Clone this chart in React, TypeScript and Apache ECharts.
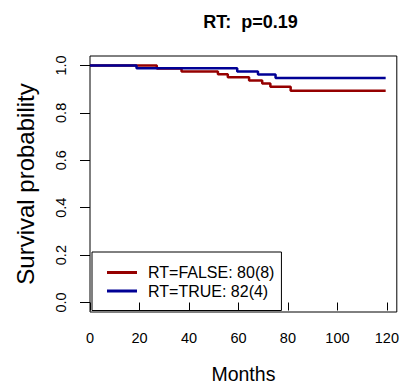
import React, { useEffect, useRef } from "react";
import * as echarts from "echarts";

// Kaplan–Meier estimates: [month, survival probability]
const rtFalse: [number, number][] = [
  [0, 1.0], [27, 0.9875], [37, 0.975], [51.7, 0.9625], [55.7, 0.95],
  [64.3, 0.937], [69.6, 0.924], [72.9, 0.91], [81.1, 0.893], [119.5, 0.893],
];
const rtTrue: [number, number][] = [
  [0, 1.0], [18.8, 0.988], [59.5, 0.975], [67.9, 0.962], [75, 0.947], [119.5, 0.947],
];
const seriesNames = ["RT=FALSE: 80(8)", "RT=TRUE: 82(4)"];
const seriesColors = ["#950000", "#000095"];
const xTicks = [0, 20, 40, 60, 80, 100, 120];
const yTicks = [0, 0.2, 0.4, 0.6, 0.8, 1.0];
const titleText = "RT:  p=0.19";

const FONT = "Liberation Sans, Arial, Helvetica, sans-serif";

export default function App() {
  const ref = useRef<HTMLDivElement>(null);

  useEffect(() => {
    if (!ref.current) return;
    const chart = echarts.init(ref.current, null, { renderer: "svg" });
    chart.setOption({
      animation: false,
      backgroundColor: "#fff",
      title: {
        text: titleText,
        left: 245.5,
        top: 8,
        textAlign: "center",
        textStyle: { fontFamily: FONT, fontSize: 18, fontWeight: "bold", color: "#000" },
      },
      grid: {
        left: 90,
        top: 56,
        width: 311.7,
        height: 256,
        show: true,
        borderColor: "#000",
        borderWidth: 1,
        backgroundColor: "transparent",
      },
      legend: {
        orient: "vertical",
        left: 92,
        top: 252,
        padding: [12, 7, 11, 15],
        borderColor: "#000",
        borderWidth: 1,
        itemWidth: 30,
        itemHeight: 3,
        itemGap: 1.5,
        icon: "rect",
        data: seriesNames,
        textStyle: {
          fontFamily: FONT,
          fontSize: 16,
          color: "#000",
          lineHeight: 17,
          padding: [0, 0, 0, 6],
        },
      },
      xAxis: {
        type: "value",
        min: 0,
        max: 124,
        name: "Months",
        nameLocation: "middle",
        nameGap: 52,
        nameTextStyle: { fontFamily: FONT, fontSize: 19.5, color: "#000" },
        axisLine: { show: false },
        splitLine: { show: false },
        axisTick: {
          show: true,
          inside: false,
          length: 8,
          customValues: xTicks,
          lineStyle: { color: "#000", width: 1 },
        },
        axisLabel: {
          customValues: xTicks,
          margin: 18,
          fontFamily: FONT,
          fontSize: 14.5,
          color: "#000",
        },
      },
      yAxis: {
        type: "value",
        min: -0.04,
        max: 1.04,
        name: "Survival probability",
        nameLocation: "middle",
        nameRotate: 90,
        nameGap: 53,
        nameTextStyle: { fontFamily: FONT, fontSize: 24, color: "#000" },
        axisLine: { show: false },
        splitLine: { show: false },
        axisTick: {
          show: true,
          inside: false,
          length: 10,
          customValues: yTicks,
          lineStyle: { color: "#000", width: 1 },
        },
        axisLabel: {
          customValues: yTicks,
          rotate: 90,
          margin: 22,
          fontFamily: FONT,
          fontSize: 14.5,
          color: "#000",
          formatter: (v: number) => v.toFixed(1),
        },
      },
      series: [
        {
          name: seriesNames[0],
          type: "line",
          step: "end",
          data: rtFalse,
          showSymbol: false,
          symbol: "none",
          color: seriesColors[0],
          lineStyle: { width: 2.5, color: seriesColors[0] },
        },
        {
          name: seriesNames[1],
          type: "line",
          step: "end",
          data: rtTrue,
          showSymbol: false,
          symbol: "none",
          color: seriesColors[1],
          lineStyle: { width: 2.5, color: seriesColors[1] },
        },
      ],
    });
    return () => chart.dispose();
  }, []);

  return (
    <div
      ref={ref}
      style={{ position: "fixed", left: 0, top: 0, width: 402, height: 390 }}
    />
  );
}
